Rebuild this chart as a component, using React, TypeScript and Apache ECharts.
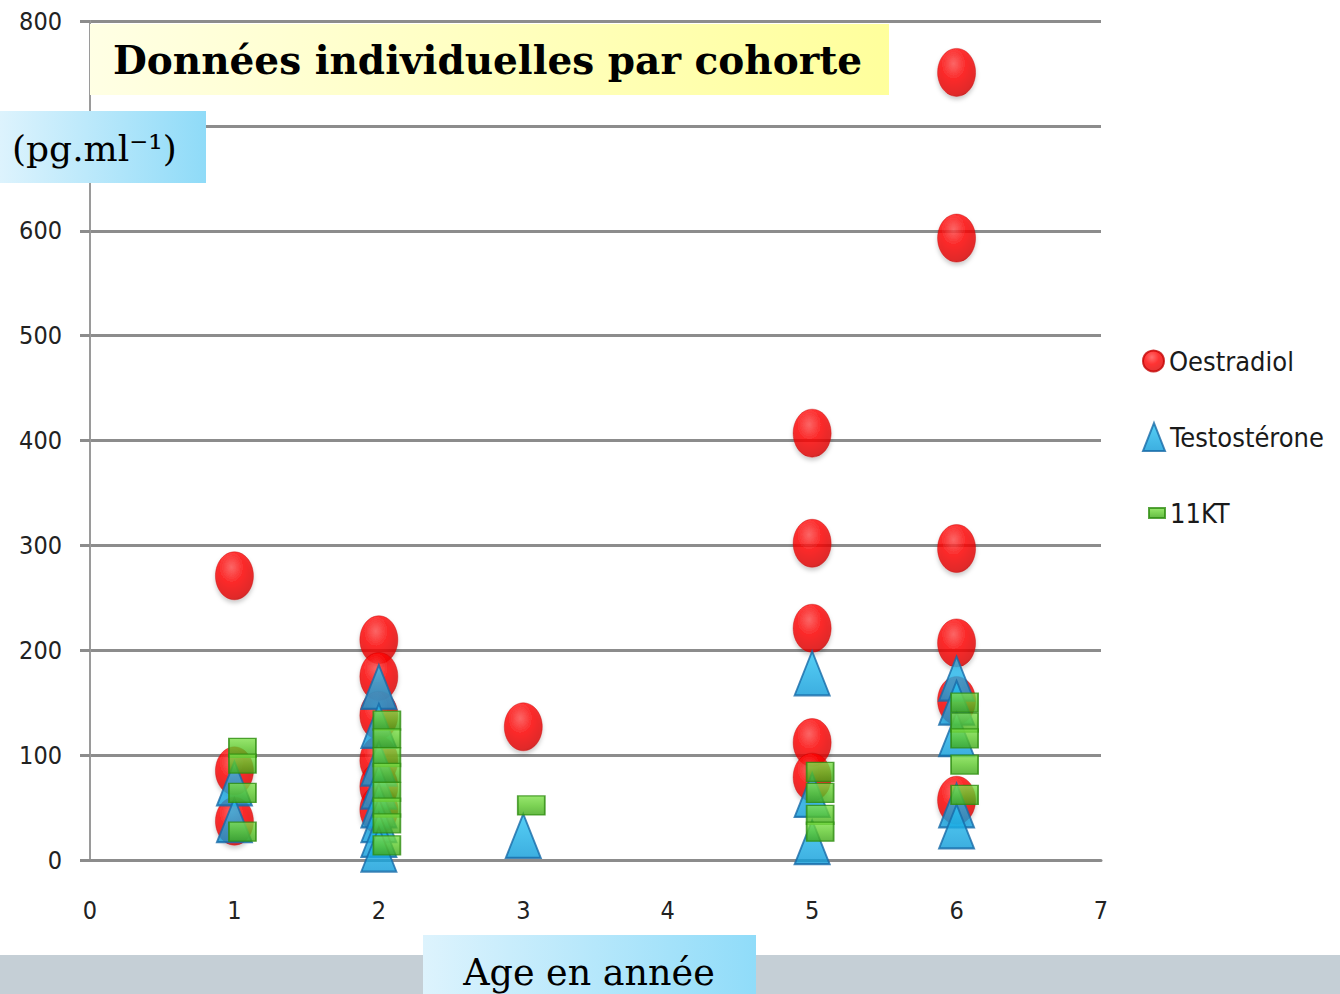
import React, { useEffect, useRef } from "react";
import * as echarts from "echarts";

// ---- data ----
const xTickLabels = ["0", "1", "2", "3", "4", "5", "6", "7"];
// the 700 label is hidden behind the unit box in the reference
const yTickLabels = ["0", "100", "200", "300", "400", "500", "600", "", "800"];

const seriesNames = ["Oestradiol", "Testostérone", "11KT"];

const oestradiolAge = [1, 1, 1, 2, 2, 2, 2, 2, 2, 3, 5, 5, 5, 5, 5, 6, 6, 6, 6, 6, 6];
const oestradiolValue = [271, 85, 37, 210, 175, 138, 95, 70, 48, 127, 407, 302, 221, 112, 79, 751, 593, 297, 207, 152, 57];

const testosteroneAge = [1, 1, 2, 2, 2, 2, 2, 2, 2, 2, 3, 5, 5, 5, 6, 6, 6, 6, 6];
const testosteroneValue = [73, 38, 165, 128, 92, 70, 52, 38, 24, 10, 23, 178, 62, 17, 173, 150, 120, 52, 32];

const ketoAge = [1, 1, 1, 1, 2, 2, 2, 2, 2, 2, 2, 2, 3, 5, 5, 5, 5, 6, 6, 6, 6, 6];
const ketoValue = [107, 92, 64, 27, 133, 116, 98, 83, 65, 50, 35, 14, 52, 84, 64, 43, 27, 150, 131, 116, 91, 62];

const titleText = "Données individuelles par cohorte";
const yTitleText = "(pg.ml⁻¹)";
const xTitleText = "Age en année";

const pair = (xs: number[], ys: number[]) => xs.map((x, i) => [x, ys[i]]);

const NARROW = '"DejaVu Sans Condensed", "Liberation Sans Narrow", sans-serif';
const SERIF = '"DejaVu Serif", "Liberation Serif", serif';

export default function App() {
  const ref = useRef<HTMLDivElement>(null);

  useEffect(() => {
    if (!ref.current) return;
    const chart = echarts.init(ref.current, undefined, { renderer: "svg" });

    const redFill = new echarts.graphic.RadialGradient(0.42, 0.32, 0.75, [
      { offset: 0, color: "#ff4a4a" },
      { offset: 0.45, color: "#ff0000" },
      { offset: 0.85, color: "#e00000" },
      { offset: 1, color: "#b80000" },
    ]);
    const blueFill = new echarts.graphic.LinearGradient(0, 0, 0, 1, [
      { offset: 0, color: "#2cc4f4" },
      { offset: 1, color: "#0c9ad8" },
    ]);
    const greenFill = new echarts.graphic.LinearGradient(0, 0, 0, 1, [
      { offset: 0, color: "#7ee04a" },
      { offset: 0.5, color: "#5cc82a" },
      { offset: 1, color: "#3ea816" },
    ]);

    const legendText = { fontFamily: NARROW, fontSize: 27, color: "#1a1a1a", lineHeight: 30 };

    chart.setOption({
      animation: false,
      backgroundColor: "#ffffff",
      grid: { left: 90, right: 239, top: 21, bottom: 134, containLabel: false },
      xAxis: {
        type: "value",
        min: 0,
        max: 7,
        interval: 1,
        axisLine: { show: true, lineStyle: { color: "#8c8c8c", width: 3 } },
        axisTick: { show: false },
        splitLine: { show: false },
        axisLabel: {
          margin: 38,
          fontFamily: NARROW,
          fontSize: 25,
          color: "#222",
          formatter: (v: number) => xTickLabels[Math.round(v)] ?? "",
        },
      },
      yAxis: {
        type: "value",
        min: 0,
        max: 800,
        interval: 100,
        axisLine: { show: true, lineStyle: { color: "#9a9a9a", width: 2 } },
        axisTick: { show: true, length: 10, lineStyle: { color: "#8c8c8c", width: 3 } },
        splitLine: { show: true, lineStyle: { color: "#8c8c8c", width: 3 } },
        axisLabel: {
          margin: 28,
          fontFamily: NARROW,
          fontSize: 25,
          color: "#222",
          formatter: (v: number) => yTickLabels[Math.round(v / 100)] ?? "",
        },
      },
      legend: [
        {
          data: [{ name: seriesNames[0], icon: "circle" }],
          left: 1142,
          top: 346,
          padding: 0,
          itemWidth: 21,
          itemHeight: 29,
          textStyle: legendText,
        },
        {
          data: [{ name: seriesNames[1], icon: "triangle" }],
          left: 1142,
          top: 422,
          padding: 0,
          itemWidth: 22,
          itemHeight: 28,
          textStyle: legendText,
        },
        {
          data: [{ name: seriesNames[2], icon: "rect" }],
          left: 1148,
          top: 498,
          padding: 0,
          itemWidth: 16,
          itemHeight: 10,
          textStyle: legendText,
        },
      ],
      series: [
        {
          name: seriesNames[0],
          type: "scatter",
          symbol: "circle",
          symbolSize: [38, 48],
          data: pair(oestradiolAge, oestradiolValue),
          itemStyle: {
            color: redFill,
            borderColor: "#c40000",
            borderWidth: 0.5,
            shadowBlur: 4,
            shadowOffsetY: 3,
            shadowColor: "rgba(0,0,0,0.25)",
          },
          z: 2,
        },
        {
          name: seriesNames[1],
          type: "scatter",
          symbol: "triangle",
          symbolSize: [35, 44],
          data: pair(testosteroneAge, testosteroneValue),
          itemStyle: {
            color: blueFill,
            borderColor: "#176aa8",
            borderWidth: 2,
          },
          z: 3,
        },
        {
          name: seriesNames[2],
          type: "scatter",
          symbol: "rect",
          symbolSize: [27, 19],
          symbolOffset: [8, 0],
          data: pair(ketoAge, ketoValue),
          itemStyle: {
            color: greenFill,
            borderColor: "#2e8c10",
            borderWidth: 1.5,
          },
          z: 4,
        },
      ],
      graphic: [
        {
          type: "rect",
          z: 100,
          shape: { x: 90, y: 24, width: 799, height: 71 },
          style: {
            fill: new echarts.graphic.LinearGradient(0, 0, 1, 0, [
              { offset: 0, color: "#ffffe4" },
              { offset: 1, color: "#ffff9c" },
            ]),
          },
        },
        {
          type: "text",
          z: 101,
          x: 113,
          y: 60,
          style: {
            text: titleText,
            fill: "#000",
            fontFamily: SERIF,
            fontWeight: "bold",
            fontSize: 39,
            align: "left",
            verticalAlign: "middle",
          },
        },
        {
          type: "rect",
          z: 100,
          shape: { x: 0, y: 111, width: 206, height: 72 },
          style: {
            fill: new echarts.graphic.LinearGradient(0, 0, 1, 0, [
              { offset: 0, color: "#ddf3fd" },
              { offset: 1, color: "#8fdbf8" },
            ]),
          },
        },
        {
          type: "text",
          z: 101,
          x: 12,
          y: 148,
          style: {
            text: yTitleText,
            fill: "#000",
            fontFamily: SERIF,
            fontSize: 36,
            align: "left",
            verticalAlign: "middle",
          },
        },
        {
          type: "rect",
          z: 100,
          shape: { x: 0, y: 955, width: 1340, height: 39 },
          style: { fill: "#c5cfd6" },
        },
        {
          type: "rect",
          z: 101,
          shape: { x: 423, y: 935, width: 333, height: 59 },
          style: {
            fill: new echarts.graphic.LinearGradient(0, 0, 1, 0, [
              { offset: 0, color: "#ddf3fd" },
              { offset: 1, color: "#90dcf9" },
            ]),
          },
        },
        {
          type: "text",
          z: 102,
          x: 589,
          y: 972,
          style: {
            text: xTitleText,
            fill: "#000",
            fontFamily: SERIF,
            fontSize: 36.5,
            align: "center",
            verticalAlign: "middle",
          },
        },
      ],
    });

    return () => chart.dispose();
  }, []);

  return (
    <div
      ref={ref}
      style={{ position: "absolute", left: 0, top: 0, width: 1340, height: 994, background: "#fff" }}
    />
  );
}
